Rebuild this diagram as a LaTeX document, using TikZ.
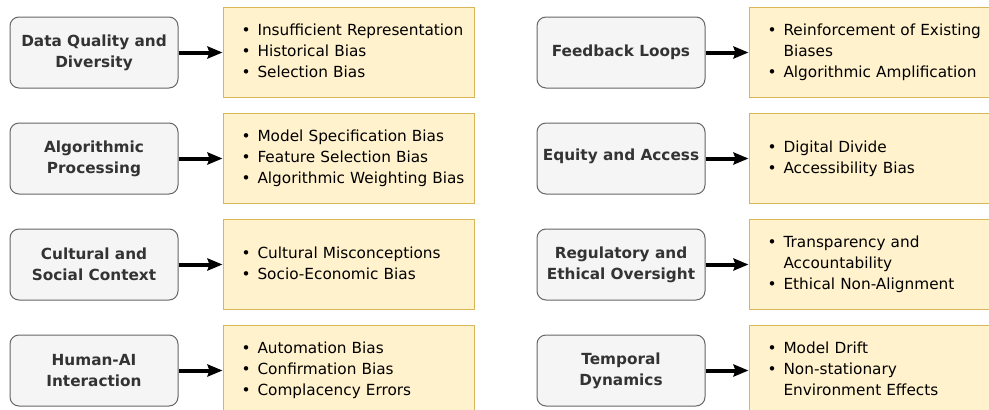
\documentclass[tikz,border=0pt]{standalone}
\usepackage{fontspec}
\setmainfont{DejaVu Sans}
\usetikzlibrary{arrows.meta,positioning}

\definecolor{causefill}{HTML}{F5F5F5}
\definecolor{causeline}{HTML}{666666}
\definecolor{causetext}{HTML}{333333}
\definecolor{biasfill}{HTML}{FFF2CC}
\definecolor{biasline}{HTML}{D6B656}

% bullet list inside the yellow boxes
\newcommand{\biaslist}[1]{\begin{tabular}{@{}l@{\hspace{7pt}}l@{}}#1\end{tabular}}

\begin{document}
\begin{tikzpicture}[
  x=1pt, y=1pt,
  cause/.style={draw=causeline, line width=1pt, fill=causefill, rounded corners=9pt, minimum width=168pt, minimum height=71pt, inner sep=1pt, align=center, text=causetext, font=\bfseries\fontsize{15.3}{21}\selectfont},
  effect/.style={draw=biasline, line width=1pt, fill=biasfill, minimum height=90pt, text width=214pt, inner xsep=18.5pt, align=left, font=\fontsize{15.3}{21}\selectfont},
  link/.style={-{Stealth[length=15pt, width=12pt, inset=2pt]}, line width=4pt}
]
\useasboundingbox (0,0) rectangle (989,-410);
\clip (0,0) rectangle (989,-410);

% Left column
\node[cause] (data) at (94,-52.5) {Data Quality and\\Diversity};
\node[effect, right=44pt of data] (dataB) {\biaslist{\textbullet & Insufficient Representation\\ \textbullet & Historical Bias\\ \textbullet & Selection Bias}};

\node[cause] (algo) at (94,-158.5) {Algorithmic\\Processing};
\node[effect, right=44pt of algo] (algoB) {\biaslist{\textbullet & Model Specification Bias\\ \textbullet & Feature Selection Bias\\ \textbullet & Algorithmic Weighting Bias}};

\node[cause] (cult) at (94,-264.5) {Cultural and\\Social Context};
\node[effect, right=44pt of cult] (cultB) {\biaslist{\textbullet & Cultural Misconceptions\\ \textbullet & Socio-Economic Bias}};

\node[cause] (human) at (94,-370.5) {Human-AI\\Interaction};
\node[effect, right=44pt of human] (humanB) {\biaslist{\textbullet & Automation Bias\\ \textbullet & Confirmation Bias\\ \textbullet & Complacency Errors}};

% Right column
\node[cause] (loop) at (621,-52.5) {Feedback Loops};
\node[effect, right=43pt of loop] (loopB) {\biaslist{\textbullet & Reinforcement of Existing\\ & Biases\\ \textbullet & Algorithmic Amplification}};

\node[cause] (equity) at (621,-158.5) {\raisebox{8pt}{Equity and Access}};
\node[effect, right=43pt of equity] (equityB) {\biaslist{\textbullet & Digital Divide\\ \textbullet & Accessibility Bias}};

\node[cause] (regul) at (621,-264.5) {Regulatory and\\Ethical Oversight};
\node[effect, right=43pt of regul] (regulB) {\biaslist{\textbullet & Transparency and\\ & Accountability\\ \textbullet & Ethical Non-Alignment}};

\node[cause] (temp) at (621,-370.5) {Temporal\\Dynamics};
\node[effect, right=43pt of temp] (tempB) {\biaslist{\textbullet & Model Drift\\ \textbullet & Non-stationary\\ & Environment Effects}};

% Arrows
\draw[link] (data) -- (dataB);
\draw[link] (algo) -- (algoB);
\draw[link] (cult) -- (cultB);
\draw[link] (human) -- (humanB);
\draw[link] (loop) -- (loopB);
\draw[link] (equity) -- (equityB);
\draw[link] (regul) -- (regulB);
\draw[link] (temp) -- (tempB);
\end{tikzpicture}
\end{document}
